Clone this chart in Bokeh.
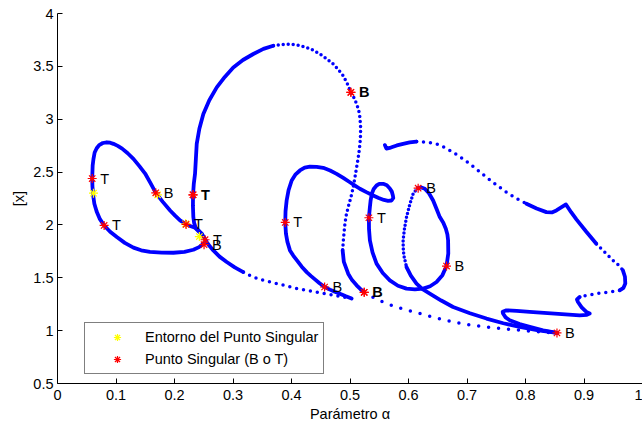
from collections import Counter

from bokeh.core.properties import value
from bokeh.embed import file_html
from bokeh.models import ColumnDataSource, FixedTicker, Range1d
from bokeh.plotting import figure
from bokeh.resources import INLINE

# ---------------------------------------------------------------------------
# Continuation curve [x] versus the parameter alpha, split into stretches.
# "solid" stretches are densely sampled, "dotted" ones are sparsely sampled.
# ---------------------------------------------------------------------------

# left loop (dense)
left_loop_x = [0.2493, 0.2420, 0.2322, 0.2170, 0.1981, 0.1780, 0.1580, 0.1430, 0.1298,
               0.1150, 0.1014, 0.0900, 0.0797, 0.0720, 0.0669, 0.0630, 0.0610, 0.0598,
               0.0593, 0.0597, 0.0601, 0.0615, 0.0635, 0.0670, 0.0712, 0.0775, 0.0844,
               0.0900, 0.0956, 0.1030, 0.1105, 0.1200, 0.1298, 0.1400, 0.1498, 0.1590,
               0.1680, 0.1800, 0.1925, 0.2010, 0.2095, 0.2198, 0.2280, 0.2351, 0.2410,
               0.2466, 0.2510, 0.2551, 0.2600, 0.2664, 0.2770, 0.2893, 0.3030, 0.3176]
left_loop_y = [1.8225, 1.790, 1.765, 1.745, 1.737, 1.738, 1.745, 1.760, 1.785,
               1.830, 1.885, 1.935, 1.995, 2.060, 2.127, 2.200, 2.279, 2.360,
               2.439, 2.500, 2.562, 2.625, 2.685, 2.725, 2.755, 2.775, 2.782,
               2.778, 2.767, 2.748, 2.722, 2.678, 2.625, 2.556, 2.486, 2.395,
               2.304, 2.218, 2.137, 2.088, 2.0425, 2.005, 1.988, 1.974, 1.950,
               1.917, 1.878, 1.838, 1.800, 1.759, 1.700, 1.649, 1.598, 1.554]

# tail leaving the left loop (sparse)
tail_x = [0.3176, 0.3347, 0.3518, 0.3803, 0.4088, 0.4315, 0.4657, 0.4884, 0.5027]
tail_y = [1.554, 1.507, 1.476, 1.438, 1.3975, 1.377, 1.341, 1.318, 1.303]

# fold back through alpha ~ 0.39 and the inner loop (dense)
fold_x = [0.5027, 0.4930, 0.4827, 0.4740, 0.4657, 0.4566, 0.4480, 0.4401, 0.4330,
          0.4264, 0.4175, 0.4093, 0.4030, 0.3974, 0.3930, 0.3905, 0.3893, 0.3898,
          0.3917, 0.3950, 0.4003, 0.4065, 0.4144, 0.4225, 0.4315, 0.4430, 0.4542,
          0.4660, 0.4771, 0.4885, 0.4998, 0.5085, 0.5169, 0.5280, 0.5396, 0.5490,
          0.5579, 0.5650, 0.5710, 0.5740, 0.5733, 0.5715, 0.5681, 0.5630, 0.5567,
          0.5500, 0.5454, 0.5405, 0.5374, 0.5352, 0.5340, 0.5323, 0.5325, 0.5340,
          0.5385, 0.5454, 0.5560, 0.5681, 0.5820, 0.5966, 0.6110, 0.6250, 0.6370,
          0.6479, 0.6580, 0.6650, 0.6680, 0.6677, 0.6665, 0.6638, 0.6595, 0.6535,
          0.6480, 0.6421, 0.6350, 0.6279, 0.6220, 0.6165]
fold_y = [1.303, 1.325, 1.350, 1.368, 1.388, 1.413, 1.448, 1.485, 1.518,
          1.551, 1.605, 1.665, 1.710, 1.759, 1.840, 1.917, 2.024, 2.130,
          2.231, 2.330, 2.420, 2.475, 2.515, 2.542, 2.552, 2.550, 2.540,
          2.515, 2.4835, 2.445, 2.404, 2.372, 2.342, 2.310, 2.279, 2.255,
          2.236, 2.228, 2.231, 2.255, 2.279, 2.315, 2.345, 2.375, 2.389,
          2.388, 2.373, 2.340, 2.297, 2.230, 2.168, 2.068, 1.960, 1.854,
          1.740, 1.634, 1.545, 1.476, 1.425, 1.3975, 1.390, 1.3975, 1.420,
          1.460, 1.525, 1.611, 1.730, 1.854, 1.910, 1.964, 2.020, 2.074,
          2.150, 2.231, 2.300, 2.342, 2.355, 2.3475]

# descent from the inner loop towards alpha ~ 0.85
inner_dotted_x = [0.6165, 0.6120, 0.6079, 0.6020, 0.5966, 0.5930, 0.5908, 0.5910,
                  0.5920, 0.5966]
inner_dotted_y = [2.3475, 2.325, 2.295, 2.190, 2.074, 1.960, 1.854, 1.780,
                  1.712, 1.6015]
inner_solid_x = [0.5966, 0.6040, 0.6137, 0.6240, 0.6364, 0.6560, 0.6762, 0.7050,
                 0.7333, 0.7620, 0.7901, 0.8220, 0.8538]
inner_solid_y = [1.6015, 1.520, 1.445, 1.392, 1.350, 1.285, 1.2238, 1.165,
                 1.1143, 1.070, 1.035, 1.002, 0.978]

# large loop reaching [x] ~ 3.7
big_up_x = [0.2466, 0.2410, 0.2369, 0.2335, 0.2322, 0.2315, 0.2317, 0.2330, 0.2351,
            0.2365, 0.2380, 0.2425, 0.2493, 0.2595, 0.2722, 0.2860, 0.3005, 0.3170,
            0.3347, 0.3520, 0.3689]
big_up_y = [1.917, 1.940, 1.964, 2.020, 2.074, 2.180, 2.285, 2.390, 2.4835,
            2.620, 2.767, 2.910, 3.050, 3.180, 3.301, 3.400, 3.490, 3.560,
            3.617, 3.665, 3.695]
big_top_x = [0.3689, 0.3830, 0.3974, 0.4120, 0.4259, 0.4375, 0.4486, 0.4600, 0.4713,
             0.4800, 0.4884, 0.4955, 0.5015, 0.5070, 0.5113, 0.5150, 0.5169, 0.5180,
             0.5181, 0.5172, 0.5157, 0.5138, 0.5113, 0.5085, 0.5055, 0.5015, 0.4969,
             0.4935, 0.4913, 0.4890, 0.4874]
big_top_y = [3.695, 3.707, 3.711, 3.700, 3.679, 3.652, 3.617, 3.572, 3.522,
             3.470, 3.412, 3.335, 3.254, 3.200, 3.1445, 3.080, 3.018, 2.940,
             2.861, 2.780, 2.7035, 2.625, 2.546, 2.450, 2.357, 2.260, 2.168,
             2.090, 2.011, 1.880, 1.759]
big_down_x = [0.4874, 0.4895, 0.4969, 0.5035, 0.5113, 0.5180, 0.5243]
big_down_y = [1.759, 1.650, 1.539, 1.478, 1.429, 1.392, 1.3626]
big_low_x = [0.5243, 0.5430, 0.5625, 0.5900, 0.6194, 0.6480, 0.6762, 0.7050, 0.7333,
             0.7620, 0.7901, 0.8220, 0.8538]
big_low_y = [1.3626, 1.305, 1.256, 1.205, 1.1615, 1.120, 1.082, 1.055, 1.035,
             1.018, 1.004, 0.990, 0.978]

# right-hand branch
right_a_x = [0.5596, 0.5622, 0.5698, 0.5800, 0.5908, 0.6020, 0.6137]
right_a_y = [2.755, 2.722, 2.732, 2.752, 2.767, 2.780, 2.7885]
right_b_x = [0.6137, 0.6310, 0.6479, 0.6620, 0.6762, 0.6905, 0.7047, 0.7190, 0.7333,
             0.7500, 0.7674, 0.7845, 0.8016]
right_b_y = [2.7885, 2.782, 2.767, 2.732, 2.687, 2.635, 2.578, 2.515, 2.451,
             2.380, 2.310, 2.250, 2.200]
right_c_x = [0.8016, 0.8190, 0.8357, 0.8450, 0.8528, 0.8610, 0.8692, 0.8780, 0.8870,
             0.9040, 0.9211]
right_c_y = [2.200, 2.155, 2.121, 2.118, 2.137, 2.165, 2.194, 2.120, 2.052,
             1.935, 1.8225]
right_d_x = [0.9211, 0.9360, 0.9495, 0.9600, 0.9665]
right_d_y = [1.8225, 1.740, 1.665, 1.615, 1.570]
right_e_x = [0.9665, 0.9700, 0.9706, 0.9675, 0.9609]
right_e_y = [1.570, 1.510, 1.445, 1.405, 1.3815]
right_f_x = [0.9609, 0.9420, 0.9211, 0.9060, 0.8926]
right_f_y = [1.3815, 1.365, 1.350, 1.335, 1.318]
right_g_x = [0.8926, 0.8880, 0.8897, 0.8960, 0.9040, 0.9097, 0.9050, 0.8926, 0.8500,
             0.8072, 0.7850, 0.7674, 0.7610, 0.7616, 0.7660, 0.7730, 0.7900, 0.8072,
             0.8300, 0.8538]
right_g_y = [1.318, 1.295, 1.271, 1.220, 1.1766, 1.1615, 1.150, 1.1454, 1.160,
             1.1766, 1.186, 1.1926, 1.178, 1.1615, 1.125, 1.098, 1.062, 1.035,
             1.002, 0.978]

# neighbourhood points of the singular points
near_x = [0.0615, 0.1710, 0.2190, 0.2425]
near_y = [2.300, 2.285, 2.010, 1.890]

# singular points (B = bifurcation, T = turning); some were detected twice
sing_x = [0.0593, 0.0797, 0.1680, 0.2317, 0.2317, 0.2198, 0.2522, 0.2505, 0.3893,
          0.4566, 0.5243, 0.5243, 0.5015, 0.5015, 0.5323, 0.6165, 0.6650, 0.8538]
sing_y = [2.439, 1.995, 2.304, 2.285, 2.285, 2.005, 1.860, 1.813, 2.024,
          1.413, 1.3626, 1.3626, 3.254, 3.254, 2.068, 2.3475, 1.611, 0.978]
sing_kind = ["T", "T", "B", "T", "T", "T", "T", "B", "T",
             "B", "B", "B", "B", "B", "T", "B", "B", "B"]

x_ticks = [0, 0.1, 0.2, 0.3, 0.4, 0.5, 0.6, 0.7, 0.8, 0.9, 1]
x_tick_labels = ["0", "0.1", "0.2", "0.3", "0.4", "0.5", "0.6", "0.7", "0.8", "0.9", "1"]
y_ticks = [0.5, 1, 1.5, 2, 2.5, 3, 3.5, 4]
y_tick_labels = ["0.5", "1", "1.5", "2", "2.5", "3", "3.5", "4"]

FONT = "Liberation Sans"
BLUE = "#0000ff"

p = figure(width=642, height=425, output_backend="svg", toolbar_location=None,
           x_range=Range1d(0, 1), y_range=Range1d(0.5, 4),
           min_border_left=57, min_border_right=0, min_border_top=13,
           min_border_bottom=42)
p.outline_line_color = None
p.grid.visible = False
p.background_fill_color = "white"
p.border_fill_color = "white"


def solid(xs, ys):
    p.line(xs, ys, line_color=BLUE, line_width=3.8, line_cap="round", line_join="round")


def dotted(xs, ys, gap):
    p.line(xs, ys, line_color=BLUE, line_width=3.5, line_cap="round", line_join="round",
           line_dash=f"0 {gap}")


solid(left_loop_x, left_loop_y)
dotted(tail_x, tail_y, 7)
solid(fold_x, fold_y)
dotted(inner_dotted_x, inner_dotted_y, 4)
solid(inner_solid_x, inner_solid_y)
solid(big_up_x, big_up_y)
dotted(big_top_x, big_top_y, 5)
solid(big_down_x, big_down_y)
dotted(big_low_x, big_low_y, 10)
solid(right_a_x, right_a_y)
dotted(right_b_x, right_b_y, 7)
solid(right_c_x, right_c_y)
dotted(right_d_x, right_d_y, 6)
solid(right_e_x, right_e_y)
dotted(right_f_x, right_f_y, 7)
solid(right_g_x, right_g_y)

p.scatter(near_x, near_y, marker="asterisk", size=9, line_color="#ffff00", line_width=1.2,
          legend_label="Entorno del Punto Singular")
p.scatter(sing_x, sing_y, marker="asterisk", size=9, line_color="#ff0000", line_width=1.2,
          legend_label="Punto Singular (B o T)")

# one label per singular point; points found twice get a heavier label
counts = Counter(zip(sing_x, sing_y, sing_kind))
lab = ColumnDataSource(dict(
    x=[k[0] for k in counts],
    y=[k[1] for k in counts],
    text=[k[2] for k in counts],
    style=["bold" if n > 1 else "normal" for n in counts.values()],
))
p.text(x="x", y="y", text="text", source=lab, x_offset=8, text_baseline="middle",
       text_align="left", text_font=value(FONT), text_font_size="14.5px",
       text_font_style="style", text_color="black")

# axes
p.xaxis.ticker = FixedTicker(ticks=x_ticks)
p.xaxis.major_label_overrides = dict(zip(x_ticks, x_tick_labels))
p.yaxis.ticker = FixedTicker(ticks=y_ticks)
p.yaxis.major_label_overrides = dict(zip(y_ticks, y_tick_labels))
p.xaxis.axis_label = "Parámetro α"
p.yaxis.axis_label = "[x]"
for ax in (p.xaxis[0], p.yaxis[0]):
    ax.major_tick_in = 5
    ax.major_tick_out = 0
    ax.minor_tick_line_color = None
    ax.axis_line_color = "black"
    ax.major_tick_line_color = "black"
    ax.major_label_text_font = FONT
    ax.major_label_text_font_size = "14.5px"
    ax.major_label_text_color = "black"
    ax.axis_label_text_font = FONT
    ax.axis_label_text_font_size = "14.5px"
    ax.axis_label_text_font_style = "normal"
    ax.axis_label_text_color = "black"
p.xaxis.major_label_standoff = 6
p.xaxis.axis_label_standoff = 3
p.yaxis.major_label_standoff = 4
p.yaxis.axis_label_standoff = 3

# legend
lg = p.legend[0]
lg.location = (27, 9)
lg.margin = 0
lg.padding = 5
lg.spacing = 4
lg.glyph_width = 54
lg.glyph_height = 18
lg.label_height = 18
lg.label_standoff = 1
lg.border_line_color = "black"
lg.border_line_width = 1
lg.background_fill_color = "white"
lg.background_fill_alpha = 1
lg.label_text_font = FONT
lg.label_text_font_size = "14.5px"
lg.label_text_color = "black"

open("out.html", "w").write(file_html(p, INLINE))
